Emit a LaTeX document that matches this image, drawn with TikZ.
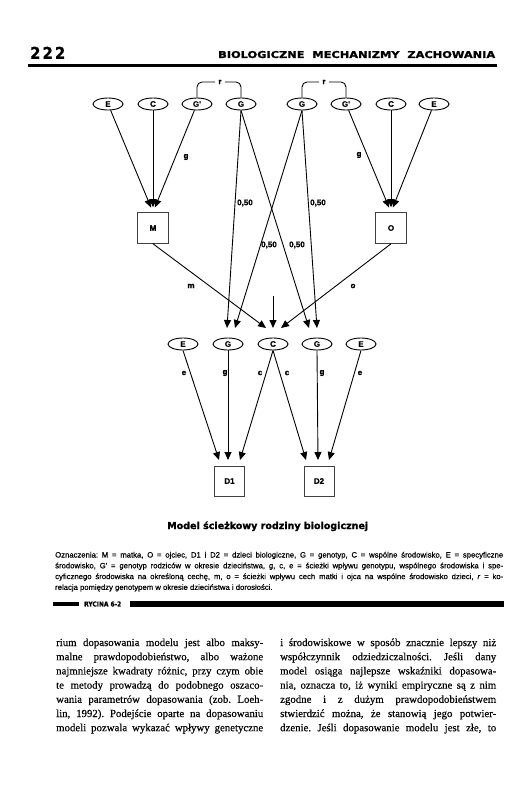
\documentclass[tikz,border=0pt]{standalone}
\usepackage{fontspec}
\setmainfont{Liberation Serif}
\newfontfamily\dfont{Liberation Sans}
\newfontfamily\legfont[FakeBold=0.4]{Liberation Sans}
\newfontfamily\lblfont[FakeBold=0.8]{Liberation Sans Bold}
\newfontfamily\hfont{DejaVu Sans}
\newfontfamily\blackfont[FakeBold=1.2]{DejaVu Sans Bold}
\newfontfamily\bodyfont[FakeBold=0.25]{Liberation Serif}
\usetikzlibrary{arrows.meta,shapes.geometric,calc}
\frenchspacing
\begin{document}
\frenchspacing
\begin{tikzpicture}[x=1pt,y=-1pt,
  ell/.style={draw,ellipse,line width=0.9pt,minimum width=30pt,minimum height=12pt,inner sep=0pt,font=\lblfont\fontsize{8}{8}\selectfont},
  sq/.style={draw=black!75,rectangle,line width=0.6pt,minimum size=31pt,inner sep=0pt,font=\lblfont\fontsize{8}{8}\selectfont},
  arr/.style={line width=0.9pt,-{Triangle[length=8pt,width=7pt]}},
  lnk/.style={line width=0.9pt},
  lbl/.style={inner sep=0pt,font=\lblfont\fontsize{8}{8}\selectfont},
  rlbl/.style={inner sep=3pt,font=\lblfont\fontsize{8}{8}\selectfont},
  legline/.style={anchor=base west,inner sep=0pt,font=\legfont\fontsize{7.7}{7.7}\selectfont},
  bodyline/.style={anchor=base west,inner sep=0pt,font=\bodyfont\fontsize{10.8}{10.8}\selectfont},
  ]
\useasboundingbox (0,0) rectangle (531,788);
\fill[white] (0,0) rectangle (531,788);

% header
\node[anchor=south west,inner sep=0pt] (pnum) at (30,59) {\resizebox{35pt}{12pt}{\blackfont 2\kern1.5pt2\kern1.5pt2}};
\node[anchor=south west,inner sep=0pt] (htitle) at (218,58.3) {\resizebox{277pt}{7pt}{\blackfont BIOLOGICZNE\ \ MECHANIZMY\ \ ZACHOWANIA}};
\draw[line width=2.5pt] (28,65.5) -- (497,65.5);

% top row
\node[ell] (tE1) at (108,104) {E};
\node[ell] (tC1) at (153,104) {C};
\node[ell] (tGp1) at (197,104) {G'};
\node[ell] (tG1) at (241,104) {G};
\node[ell] (tG2) at (302,104) {G};
\node[ell] (tGp2) at (346,104) {G'};
\node[ell] (tC2) at (391,104) {C};
\node[ell] (tE2) at (434,104) {E};

\node[rlbl] (r1) at (220,82) {r};
\node[rlbl] (r2) at (324,82) {r};
\draw[lnk,rounded corners=5pt] (tGp1.north) |- (r1.west);
\draw[lnk,rounded corners=5pt] (tG1.north) |- (r1.east);
\draw[lnk,rounded corners=5pt] (tG2.north) |- (r2.west);
\draw[lnk,rounded corners=5pt] (tGp2.north) |- (r2.east);

\node[sq] (M) at (153,228) {M};
\node[sq] (O) at (391,228) {O};

\draw[arr,shorten >=5pt] (tE1) -- (M.north);
\draw[arr,shorten >=5pt] (tC1) -- (M.north);
\draw[arr,shorten >=5pt] (tGp1) -- (M.north);
\draw[arr,shorten >=5pt] (tE2) -- (O.north);
\draw[arr,shorten >=5pt] (tC2) -- (O.north);
\draw[arr,shorten >=5pt] (tGp2) -- (O.north);
\node[lbl] (g1) at (186,157) {g};
\node[lbl] (g2) at (359,155) {g};

% middle row
\node[ell] (mE1) at (183,344) {E};
\node[ell] (mG1) at (228,344) {G};
\node[ell] (mC) at (273,344) {C};
\node[ell] (mG2) at (317,344) {G};
\node[ell] (mE2) at (361,344) {E};

\coordinate (a1) at (227,328);
\coordinate (a2) at (235,328);
\coordinate (a3) at (309,328);
\coordinate (a4) at (317,328);
\coordinate (cm) at (266,328);
\coordinate (cv) at (273,328);
\coordinate (co) at (281,328);
\coordinate (vt) at (273,296);

\draw[arr] (tG1.south) -- (a1);
\draw[arr] (tG1.south) -- (a3);
\draw[arr] (tG2.south) -- (a2);
\draw[arr] (tG2.south) -- (a4);
\draw[arr] (M.south) -- (cm);
\draw[arr] (vt) -- (cv);
\draw[arr] (O.south) -- (co);

\node[lbl] (p1) at (245,203) {0,50};
\node[lbl] (p2) at (318,203) {0,50};
\node[lbl] (p3) at (269,245) {0,50};
\node[lbl] (p4) at (297,245) {0,50};
\node[lbl] (lm) at (191,286) {m};
\node[lbl] (lo) at (353,286) {o};

% bottom
\node[sq,minimum size=30pt] (D1) at (229.5,481) {D1};
\node[sq,minimum size=30pt] (D2) at (319,481) {D2};
\coordinate (d1) at (219,460);
\coordinate (d2) at (228,460);
\coordinate (d3) at (240,460);
\coordinate (d4) at (306,460);
\coordinate (d5) at (318,460);
\coordinate (d6) at (329,460);
\draw[arr] (mE1.south) -- (d1);
\draw[arr] (mG1.south) -- (d2);
\draw[arr] (mC.south) -- (d3);
\draw[arr] (mC.south) -- (d4);
\draw[arr] (mG2.south) -- (d5);
\draw[arr] (mE2.south) -- (d6);
\node[lbl] (le1) at (184,373) {e};
\node[lbl] (lg1) at (225,373) {g};
\node[lbl] (lc1) at (260,373) {c};
\node[lbl] (lc2) at (287,373) {c};
\node[lbl] (lg2) at (322,373) {g};
\node[lbl] (le2) at (360,373) {e};

% caption
\node[anchor=base west,inner sep=0pt] (cap) at (167,529) {\resizebox{201pt}{!}{\blackfont Model ścieżkowy rodziny biologicznej}};

% legend
\node[legline] (l1) at (55,557.5) {\makebox[448pt][s]{Oznaczenia: M = matka, O = ojciec, D1 i D2 = dzieci biologiczne, G = genotyp, C = wspólne środowisko, E = specyficzne}};
\node[legline] (l2) at (55,568.3) {\makebox[448pt][s]{środowisko, G' = genotyp rodziców w okresie dzieciństwa, g, c, e = ścieżki wpływu genotypu, wspólnego środowiska i spe-}};
\node[legline] (l3) at (55,579.1) {\makebox[448pt][s]{cyficznego środowiska na określoną cechę, m, o = ścieżki wpływu cech matki i ojca na wspólne środowisko dzieci, \textit{r} = ko-}};
\node[legline] (l4) at (55,589.9) {relacja pomiędzy genotypem w okresie dzieciństwa i dorosłości.};

% figure bar
\draw[line width=4.5pt] (53,604) -- (79,604);
\node[anchor=west,inner sep=0pt] (ryc) at (84,604) {\resizebox{37pt}{5pt}{\blackfont RYCINA\ 6-2}};
\draw[line width=6pt] (130,604) -- (504,604);

% body text
\node[bodyline] (b1) at (56,646) {\makebox[207pt][s]{rium dopasowania modelu jest albo maksy-}};
\node[bodyline] (b2) at (56,660.2) {\makebox[207pt][s]{malne prawdopodobieństwo, albo ważone}};
\node[bodyline] (b3) at (56,674.4) {\makebox[207pt][s]{najmniejsze kwadraty różnic, przy czym obie}};
\node[bodyline] (b4) at (56,688.6) {\makebox[207pt][s]{te metody prowadzą do podobnego oszaco-}};
\node[bodyline] (b5) at (56,702.8) {\makebox[207pt][s]{wania parametrów dopasowania (zob. Loeh-}};
\node[bodyline] (b6) at (56,717) {\makebox[207pt][s]{lin, 1992). Podejście oparte na dopasowaniu}};
\node[bodyline] (b7) at (56,731.2) {\makebox[207pt][s]{modeli pozwala wykazać wpływy genetyczne}};

\node[bodyline] (c1) at (280,646) {\makebox[216pt][s]{i środowiskowe w sposób znacznie lepszy niż}};
\node[bodyline] (c2) at (280,660.2) {\makebox[216pt][s]{współczynnik odziedziczalności. Jeśli dany}};
\node[bodyline] (c3) at (280,674.4) {\makebox[216pt][s]{model osiąga najlepsze wskaźniki dopasowa-}};
\node[bodyline] (c4) at (280,688.6) {\makebox[216pt][s]{nia, oznacza to, iż wyniki empiryczne są z nim}};
\node[bodyline] (c5) at (280,702.8) {\makebox[216pt][s]{zgodne i z dużym prawdopodobieństwem}};
\node[bodyline] (c6) at (280,717) {\makebox[216pt][s]{stwierdzić można, że stanowią jego potwier-}};
\node[bodyline] (c7) at (280,731.2) {\makebox[216pt][s]{dzenie. Jeśli dopasowanie modelu jest złe, to}};
\end{tikzpicture}
\end{document}
